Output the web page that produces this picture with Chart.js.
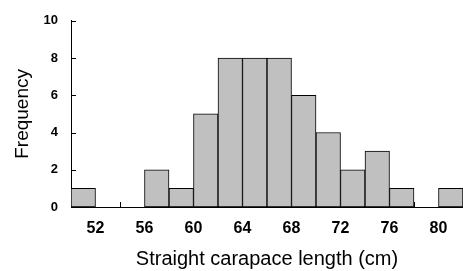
<!DOCTYPE html>
<html>
<head>
<meta charset="utf-8">
<script src="https://cdn.jsdelivr.net/npm/chart.js@4"></script>
<style>
  html, body { margin: 0; padding: 0; background: #fff; }
  #wrap { width: 463px; height: 271px; }
</style>
</head>
<body>
<div id="wrap"><canvas id="hist" width="463" height="271"></canvas></div>
<script>
// bins are 2 cm wide, given by their centres
const binCenters = [51, 53, 55, 57, 59, 61, 63, 65, 67, 69, 71, 73, 75, 77, 79, 81];
const counts = [1, 0, 0, 2, 1, 5, 8, 8, 8, 6, 4, 2, 3, 1, 0, 1];
const xLabels = [52, 56, 60, 64, 68, 72, 76, 80];
const xTickMarks = [50, 54, 58, 62, 66, 70, 74, 78, 82];
const yTicks = [0, 2, 4, 6, 8, 10];

// short inward tick marks like the original
const innerTicks = {
  id: "innerTicks",
  beforeDatasetsDraw(chart) {
    const ctx = chart.ctx;
    const xs = chart.scales.x;
    const ys = chart.scales.y;
    ctx.save();
    ctx.strokeStyle = "#000";
    ctx.lineWidth = 1;
    ctx.beginPath();
    for (let v of yTicks) {
      let py = Math.round(ys.getPixelForValue(v)) + 0.5;
      ctx.moveTo(xs.left, py);
      ctx.lineTo(xs.left + 5, py);
    }
    for (let v of xTickMarks) {
      let px = Math.round(xs.getPixelForValue(v)) + 0.5;
      ctx.moveTo(px, ys.bottom);
      ctx.lineTo(px, ys.bottom - 5);
    }
    ctx.stroke();
    ctx.restore();
  },
};

const ctx = document.getElementById("hist");
const histChart = new Chart(ctx, {
  type: "bar",
  data: {
    datasets: [
      {
        label: "Frequency",
        data: binCenters.map((c, i) => ({ x: c, y: counts[i] })),
        backgroundColor: "#c0c0c0",
        borderColor: "#000",
        borderWidth: 1,
        borderSkipped: false,
        barPercentage: 1,
        categoryPercentage: 1,
      },
    ],
  },
  plugins: [innerTicks],
  options: {
    responsive: false,
    animation: false,
    layout: { padding: { top: 20, right: 0, left: 0, bottom: 0 } },
    plugins: {
      legend: { display: false },
      tooltip: { enabled: false },
    },
    scales: {
      x: {
        type: "linear",
        min: 50,
        max: 82,
        offset: false,
        afterFit: (scale) => { scale.height = 64; },
        afterBuildTicks: (scale) => {
          scale.ticks = xLabels.map((v) => ({ value: v }));
        },
        grid: { display: false, drawTicks: false, offset: false },
        border: { display: true, color: "#000", width: 1 },
        ticks: {
          color: "#000",
          padding: 12,
          maxRotation: 0,
          autoSkip: false,
          font: { family: "Liberation Sans", size: 16, weight: "bold" },
        },
        title: {
          display: true,
          text: "Straight carapace length (cm)",
          color: "#000",
          padding: { top: 0, bottom: 0 },
          font: { family: "Liberation Sans", size: 20 },
        },
      },
      y: {
        min: 0,
        max: 10,
        afterFit: (scale) => { scale.width = 71; },
        afterBuildTicks: (scale) => {
          scale.ticks = yTicks.map((v) => ({ value: v }));
        },
        grid: { display: false, drawTicks: false },
        border: { display: true, color: "#000", width: 1 },
        ticks: {
          color: "#000",
          padding: 13,
          font: { family: "Liberation Sans", size: 13, weight: "bold" },
        },
        title: {
          display: true,
          text: "Frequency",
          color: "#000",
          padding: { top: 11, bottom: 11 },
          font: { family: "Liberation Sans", size: 19 },
        },
      },
    },
  },
});
</script>
</body>
</html>
